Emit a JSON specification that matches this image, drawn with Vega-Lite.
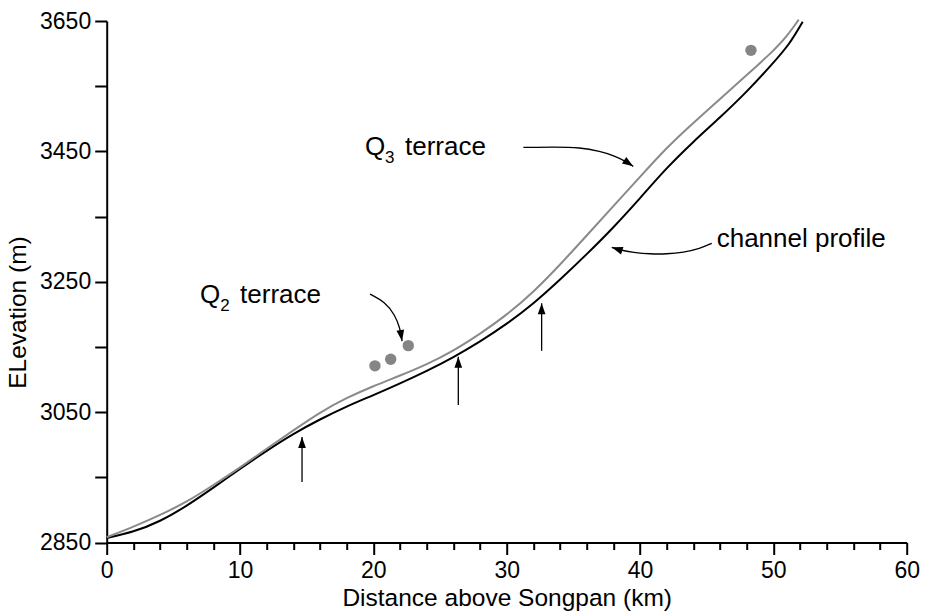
{
  "$schema": "https://vega.github.io/schema/vega-lite/v6.json",
  "width": 800,
  "height": 521.5,
  "autosize": {"type": "none"},
  "padding": {"left": 106.7, "top": 21, "right": 19.3, "bottom": 72.5},
  "background": "white",
  "config": {
    "view": {"stroke": null},
    "font": "Liberation Sans",
    "axis": {
      "grid": false,
      "domainColor": "#000000",
      "domainWidth": 2,
      "tickColor": "#000000",
      "tickWidth": 2,
      "labelColor": "#000000",
      "labelFont": "Liberation Sans",
      "labelFontSize": 23,
      "labelOverlap": false,
      "labelFlush": false,
      "labelBound": false,
      "titleColor": "#000000",
      "titleFont": "Liberation Sans",
      "titleFontSize": 24.5,
      "titleFontWeight": "normal"
    }
  },
  "datasets": {
    "profiles": [
      {"profile": "channel profile", "km": 0, "elev": 2857},
      {"profile": "channel profile", "km": 2, "elev": 2866},
      {"profile": "channel profile", "km": 4, "elev": 2882},
      {"profile": "channel profile", "km": 6, "elev": 2906},
      {"profile": "channel profile", "km": 8, "elev": 2934},
      {"profile": "channel profile", "km": 10, "elev": 2963},
      {"profile": "channel profile", "km": 12, "elev": 2991},
      {"profile": "channel profile", "km": 14, "elev": 3017},
      {"profile": "channel profile", "km": 16, "elev": 3039},
      {"profile": "channel profile", "km": 18, "elev": 3059},
      {"profile": "channel profile", "km": 20, "elev": 3076},
      {"profile": "channel profile", "km": 22, "elev": 3094},
      {"profile": "channel profile", "km": 24, "elev": 3113},
      {"profile": "channel profile", "km": 26, "elev": 3134},
      {"profile": "channel profile", "km": 28, "elev": 3158},
      {"profile": "channel profile", "km": 30, "elev": 3185},
      {"profile": "channel profile", "km": 32, "elev": 3216},
      {"profile": "channel profile", "km": 34, "elev": 3253},
      {"profile": "channel profile", "km": 36, "elev": 3292},
      {"profile": "channel profile", "km": 38, "elev": 3333},
      {"profile": "channel profile", "km": 40, "elev": 3378},
      {"profile": "channel profile", "km": 42, "elev": 3425},
      {"profile": "channel profile", "km": 44, "elev": 3465},
      {"profile": "channel profile", "km": 46, "elev": 3502},
      {"profile": "channel profile", "km": 48, "elev": 3541},
      {"profile": "channel profile", "km": 50, "elev": 3586},
      {"profile": "channel profile", "km": 51.2, "elev": 3614},
      {"profile": "channel profile", "km": 52.2, "elev": 3649},
      {"profile": "Q3 terrace", "km": 0, "elev": 2858},
      {"profile": "Q3 terrace", "km": 2, "elev": 2874},
      {"profile": "Q3 terrace", "km": 4, "elev": 2892},
      {"profile": "Q3 terrace", "km": 6, "elev": 2912},
      {"profile": "Q3 terrace", "km": 8, "elev": 2938},
      {"profile": "Q3 terrace", "km": 10, "elev": 2965},
      {"profile": "Q3 terrace", "km": 12, "elev": 2994},
      {"profile": "Q3 terrace", "km": 14, "elev": 3022},
      {"profile": "Q3 terrace", "km": 16, "elev": 3050},
      {"profile": "Q3 terrace", "km": 18, "elev": 3072},
      {"profile": "Q3 terrace", "km": 20, "elev": 3090},
      {"profile": "Q3 terrace", "km": 22, "elev": 3106},
      {"profile": "Q3 terrace", "km": 24, "elev": 3123},
      {"profile": "Q3 terrace", "km": 26, "elev": 3144},
      {"profile": "Q3 terrace", "km": 28, "elev": 3170},
      {"profile": "Q3 terrace", "km": 30, "elev": 3199},
      {"profile": "Q3 terrace", "km": 32, "elev": 3234},
      {"profile": "Q3 terrace", "km": 34, "elev": 3276},
      {"profile": "Q3 terrace", "km": 36, "elev": 3321},
      {"profile": "Q3 terrace", "km": 38, "elev": 3366},
      {"profile": "Q3 terrace", "km": 40, "elev": 3411},
      {"profile": "Q3 terrace", "km": 42, "elev": 3456},
      {"profile": "Q3 terrace", "km": 44, "elev": 3494},
      {"profile": "Q3 terrace", "km": 46, "elev": 3530},
      {"profile": "Q3 terrace", "km": 48, "elev": 3567},
      {"profile": "Q3 terrace", "km": 50, "elev": 3604},
      {"profile": "Q3 terrace", "km": 51, "elev": 3626},
      {"profile": "Q3 terrace", "km": 51.9, "elev": 3652}
    ],
    "terraces": [
      {"km": 20.12, "elev": 3121},
      {"km": 21.3, "elev": 3131},
      {"km": 22.62, "elev": 3152},
      {"km": 48.32, "elev": 3605}
    ],
    "markers": [
      {"arrow": "m1", "km": 14.65, "elev": 2943, "tip": 3012},
      {"arrow": "m2", "km": 26.37, "elev": 3061, "tip": 3135},
      {"arrow": "m3", "km": 32.62, "elev": 3144, "tip": 3217}
    ],
    "curves": [
      {"arrow": "q2", "km": 19.75, "elev": 3231},
      {"arrow": "q2", "km": 20.87, "elev": 3219},
      {"arrow": "q2", "km": 21.62, "elev": 3199},
      {"arrow": "q2", "km": 22.0, "elev": 3179},
      {"arrow": "q2", "km": 22.15, "elev": 3159},
      {"arrow": "q3", "km": 31.25, "elev": 3456},
      {"arrow": "q3", "km": 33.63, "elev": 3457},
      {"arrow": "q3", "km": 35.5, "elev": 3456},
      {"arrow": "q3", "km": 37.0, "elev": 3450},
      {"arrow": "q3", "km": 38.13, "elev": 3443},
      {"arrow": "q3", "km": 38.88, "elev": 3435},
      {"arrow": "q3", "km": 39.49, "elev": 3427},
      {"arrow": "ch", "km": 45.38, "elev": 3309},
      {"arrow": "ch", "km": 44.5, "elev": 3301},
      {"arrow": "ch", "km": 43.25, "elev": 3295},
      {"arrow": "ch", "km": 42.0, "elev": 3292.5},
      {"arrow": "ch", "km": 40.75, "elev": 3292.5},
      {"arrow": "ch", "km": 39.5, "elev": 3295},
      {"arrow": "ch", "km": 38.5, "elev": 3298.6},
      {"arrow": "ch", "km": 37.88, "elev": 3302.8}
    ],
    "heads": [
      {"arrow": "m1", "km": 14.65, "elev": 3012},
      {"arrow": "m2", "km": 26.37, "elev": 3135},
      {"arrow": "m3", "km": 32.62, "elev": 3217},
      {"arrow": "q2", "km": 22.15, "elev": 3159},
      {"arrow": "q3", "km": 39.49, "elev": 3427},
      {"arrow": "ch", "km": 37.88, "elev": 3302.8}
    ],
    "labels": [
      {"text": "Q", "km": 7.0, "elev": 3217},
      {"text": "terrace", "km": 10.0, "elev": 3217},
      {"text": "Q", "km": 19.37, "elev": 3444},
      {"text": "terrace", "km": 22.37, "elev": 3444},
      {"text": "channel profile", "km": 45.75, "elev": 3304}
    ],
    "subscripts": [
      {"text": "2", "km": 8.52, "elev": 3205},
      {"text": "3", "km": 20.88, "elev": 3432}
    ]
  },
  "encoding": {
    "x": {
      "field": "km",
      "type": "quantitative",
      "scale": {"domain": [0, 60], "nice": false, "zero": false},
      "axis": {
        "title": "Distance above Songpan (km)",
        "values": [0, 2, 4, 6, 8, 10, 12, 14, 16, 18, 20, 22, 24, 26, 28, 30, 32, 34, 36, 38, 40, 42, 44, 46, 48, 50, 52, 54, 56, 58, 60],
        "labelExpr": "datum.value % 10 === 0 ? datum.label : ''",
        "tickSize": {"condition": {"test": "datum.value % 10 === 0", "value": 12}, "value": 7},
        "labelPadding": 5,
        "titlePadding": 4
      }
    },
    "y": {
      "field": "elev",
      "type": "quantitative",
      "scale": {"domain": [2850, 3650], "nice": false, "zero": false},
      "axis": {
        "title": "ELevation (m)",
        "values": [2850, 2950, 3050, 3150, 3250, 3350, 3450, 3550, 3650],
        "format": "d",
        "labelExpr": "(datum.value - 2850) % 200 === 0 ? datum.label : ''",
        "tickSize": 12,
        "labelPadding": 4,
        "titlePadding": 9,
        "titleY": 291
      }
    }
  },
  "layer": [
    {
      "data": {"name": "profiles"},
      "mark": {"type": "line", "interpolate": "basis", "strokeWidth": 2},
      "encoding": {
        "color": {
          "field": "profile",
          "type": "nominal",
          "scale": {"domain": ["Q3 terrace", "channel profile"], "range": ["#8a8a8a", "#000000"]},
          "legend": null
        }
      }
    },
    {
      "data": {"name": "terraces"},
      "mark": {"type": "point", "filled": true, "size": 130, "color": "#858585", "opacity": 1}
    },
    {
      "data": {"name": "markers"},
      "mark": {"type": "rule", "color": "#000000", "strokeWidth": 1.3},
      "encoding": {"y2": {"field": "tip"}}
    },
    {
      "data": {"name": "curves"},
      "mark": {"type": "line", "interpolate": "basis", "color": "#000000", "strokeWidth": 1.3},
      "encoding": {"detail": {"field": "arrow", "type": "nominal"}}
    },
    {
      "data": {"name": "heads"},
      "transform": [{"filter": "indexof(['m1','m2','m3'], datum.arrow) >= 0"}],
      "mark": {"type": "point", "shape": "M0,0L0.35,1L-0.35,1Z", "size": 484, "filled": true, "color": "#000000", "opacity": 1, "angle": 0}
    },
    {
      "data": {"name": "heads"},
      "transform": [{"filter": "datum.arrow === 'q2'"}],
      "mark": {"type": "point", "shape": "M0,0L0.35,1L-0.35,1Z", "size": 484, "filled": true, "color": "#000000", "opacity": 1, "angle": 171}
    },
    {
      "data": {"name": "heads"},
      "transform": [{"filter": "datum.arrow === 'q3'"}],
      "mark": {"type": "point", "shape": "M0,0L0.35,1L-0.35,1Z", "size": 484, "filled": true, "color": "#000000", "opacity": 1, "angle": 124}
    },
    {
      "data": {"name": "heads"},
      "transform": [{"filter": "datum.arrow === 'ch'"}],
      "mark": {"type": "point", "shape": "M0,0L0.35,1L-0.35,1Z", "size": 484, "filled": true, "color": "#000000", "opacity": 1, "angle": 288}
    },
    {
      "data": {"name": "labels"},
      "mark": {"type": "text", "align": "left", "baseline": "alphabetic", "fontSize": 26, "color": "#000000", "font": "Liberation Sans"},
      "encoding": {"text": {"field": "text"}}
    },
    {
      "data": {"name": "subscripts"},
      "mark": {"type": "text", "align": "left", "baseline": "alphabetic", "fontSize": 17, "color": "#000000", "font": "Liberation Sans"},
      "encoding": {"text": {"field": "text"}}
    }
  ]
}
